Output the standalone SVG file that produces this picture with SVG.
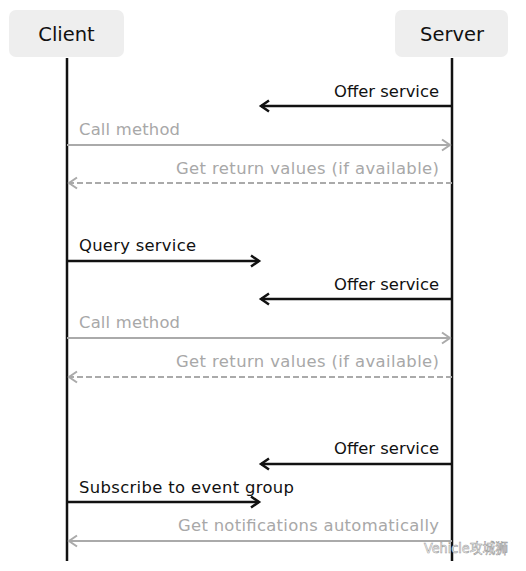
<svg xmlns="http://www.w3.org/2000/svg" width="526" height="571" viewBox="0 0 526 571">
<style>
.box{fill:#eeeeee;}
.hd{font-family:"DejaVu Sans",Verdana,sans-serif;font-size:19.5px;fill:#111;text-anchor:middle;}
.lbl{font-family:"DejaVu Sans",Verdana,sans-serif;font-size:16.4px;fill:#111;}
.g{fill:#a8a8a8;}
.r{text-anchor:end;}
.life{stroke:#111;stroke-width:2.5;fill:none;}
.blk{stroke:#111;stroke-width:2.5;fill:none;}
.gry{stroke:#aaaaaa;stroke-width:2;fill:none;}
.dash{stroke-dasharray:6,3;}
.wm{font-family:"DejaVu Sans","Noto Sans CJK SC",sans-serif;font-size:14px;fill:#ffffff;stroke:#9a9a9a;stroke-width:0.6;}
</style>
<defs>
<marker id="ab" markerUnits="userSpaceOnUse" markerWidth="14" markerHeight="14" refX="10" refY="7" orient="auto" viewBox="0 0 14 14">
<path d="M2,1.5 L10,7 L2,12.5" fill="none" stroke="#111" stroke-width="2.5"/>
</marker>
<marker id="ag" markerUnits="userSpaceOnUse" markerWidth="14" markerHeight="14" refX="10" refY="7" orient="auto" viewBox="0 0 14 14">
<path d="M2,1.5 L10,7 L2,12.5" fill="none" stroke="#aaaaaa" stroke-width="2"/>
</marker>
</defs>
<g id="client">
<rect class="box" x="9" y="10" width="115" height="47" rx="7"/>
<text class="hd" x="66.5" y="41">Client</text>
</g>
<g id="server">
<rect class="box" x="395" y="10" width="113" height="47" rx="7"/>
<text class="hd" x="452" y="41">Server</text>
</g>
<g id="connectors">
<line class="life" x1="67" y1="58" x2="67" y2="561"/>
<line class="life" x1="452" y1="58" x2="452" y2="561"/>
<line class="blk" x1="452" y1="106" x2="261" y2="106" marker-end="url(#ab)"/>
<line class="gry" x1="67" y1="145" x2="450" y2="145" marker-end="url(#ag)"/>
<line class="gry dash" x1="452" y1="183" x2="69" y2="183" marker-end="url(#ag)"/>
<line class="blk" x1="67" y1="261" x2="259" y2="261" marker-end="url(#ab)"/>
<line class="blk" x1="452" y1="299" x2="261" y2="299" marker-end="url(#ab)"/>
<line class="gry" x1="67" y1="338" x2="450" y2="338" marker-end="url(#ag)"/>
<line class="gry dash" x1="452" y1="377" x2="69" y2="377" marker-end="url(#ag)"/>
<line class="blk" x1="452" y1="464" x2="261" y2="464" marker-end="url(#ab)"/>
<line class="blk" x1="67" y1="502" x2="259" y2="502" marker-end="url(#ab)"/>
<line class="gry" x1="452" y1="541" x2="69" y2="541" marker-end="url(#ag)"/>
</g>
<g id="labels">
<text class="lbl r" x="439" y="97" textLength="105" lengthAdjust="spacing">Offer service</text>
<text class="lbl g" x="79" y="135" textLength="101" lengthAdjust="spacing">Call method</text>
<text class="lbl g r" x="439" y="174" textLength="263" lengthAdjust="spacing">Get return values (if available)</text>
<text class="lbl" x="79" y="251" textLength="117" lengthAdjust="spacing">Query service</text>
<text class="lbl r" x="439" y="290" textLength="105" lengthAdjust="spacing">Offer service</text>
<text class="lbl g" x="79" y="328" textLength="101" lengthAdjust="spacing">Call method</text>
<text class="lbl g r" x="439" y="367" textLength="263" lengthAdjust="spacing">Get return values (if available)</text>
<text class="lbl r" x="439" y="454" textLength="105" lengthAdjust="spacing">Offer service</text>
<text class="lbl" x="79" y="493" textLength="215" lengthAdjust="spacing">Subscribe to event group</text>
<text class="lbl g r" x="439" y="531" textLength="261" lengthAdjust="spacing">Get notifications automatically</text>
</g>
<text class="wm" x="424" y="553" textLength="84" lengthAdjust="spacingAndGlyphs">Vehicle攻城狮</text>
</svg>
